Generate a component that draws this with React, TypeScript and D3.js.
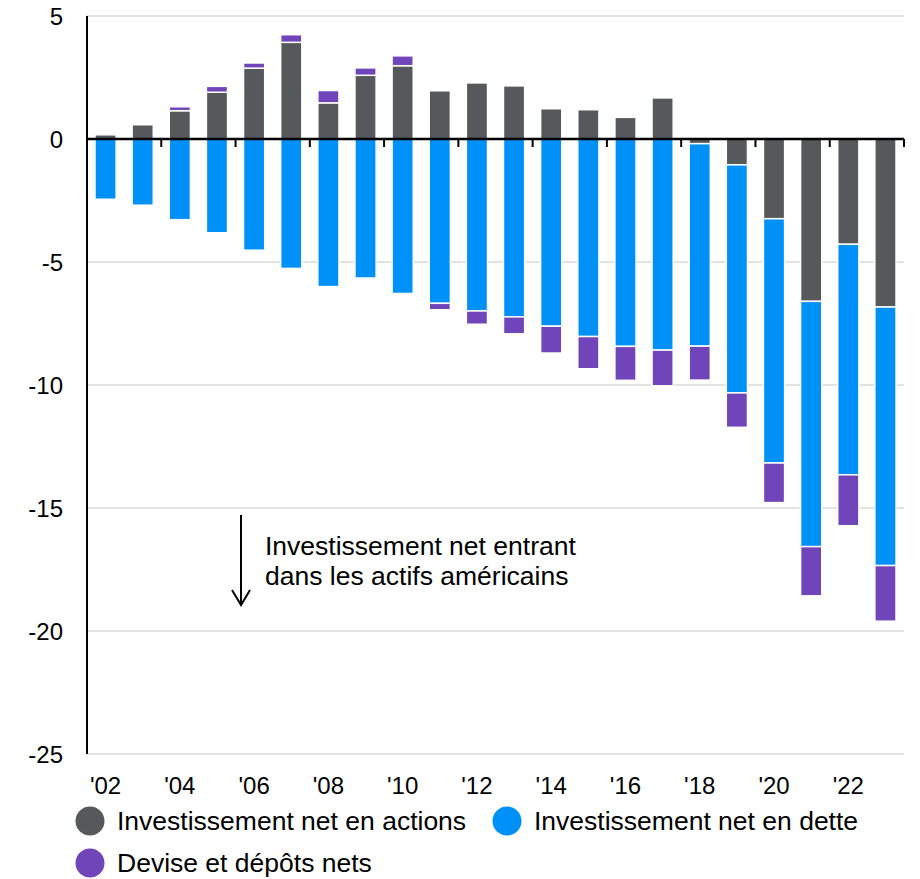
import React from "react";
import * as d3 from "d3";

// years on the x axis
const years = [
  2002, 2003, 2004, 2005, 2006, 2007, 2008, 2009, 2010, 2011, 2012,
  2013, 2014, 2015, 2016, 2017, 2018, 2019, 2020, 2021, 2022, 2023,
];

// net equity investment
const equity = [
  0.17, 0.58, 1.15, 1.9, 2.88, 3.93, 1.47, 2.59, 2.98, 1.96, 2.28,
  2.16, 1.23, 1.19, 0.88, 1.67, -0.19, -1.05, -3.24, -6.6, -4.28, -6.83,
];

// net debt investment
const debt = [
  -2.45, -2.69, -3.28, -3.81, -4.52, -5.26, -6.0, -5.65, -6.28, -6.68, -6.99,
  -7.23, -7.61, -8.03, -8.43, -8.58, -8.23, -9.27, -9.93, -9.97, -9.37, -10.51,
];

// net currency and deposits
const currency = [
  0, 0, 0.16, 0.24, 0.21, 0.31, 0.5, 0.3, 0.4, -0.26, -0.54,
  -0.69, -1.09, -1.31, -1.38, -1.45, -1.38, -1.4, -1.61, -2.0, -2.07, -2.26,
];

const yTicks = [5, 0, -5, -10, -15, -20, -25];
const xLabelYears = [2002, 2004, 2006, 2008, 2010, 2012, 2014, 2016, 2018, 2020, 2022];

const seriesKeys = ["equity", "debt", "currency"];
const seriesNames = [
  "Investissement net en actions",
  "Investissement net en dette",
  "Devise et dépôts nets",
];
const colors = ["#55595c", "#0091f8", "#6f45b9"];

const width = 920;
const height = 879;
const font = "'Liberation Sans', Arial, sans-serif";

export default function App() {
  const rows = years.map((y, i) => ({
    year: y,
    equity: equity[i],
    debt: debt[i],
    currency: currency[i],
  }));

  const x = d3
    .scaleBand<number>()
    .domain(years)
    .range([87, 904])
    .paddingInner(0.43)
    .paddingOuter(0.215);

  const y = d3.scaleLinear().domain([-25, 5]).range([754, 16]);

  const stack = d3
    .stack<any>()
    .keys(seriesKeys)
    .offset(d3.stackOffsetDiverging);
  const layers = stack(rows);

  const step = x.step();
  const bw = x.bandwidth();
  const tickYears = years.filter((yr) => yr % 2 === 1);

  return (
    <svg
      width={width}
      height={height}
      style={{ position: "absolute", left: 0, top: 0 }}
      fontFamily={font}
    >
      {/* grid */}
      {yTicks
        .filter((t) => t !== 0)
        .map((t) => (
          <line
            key={"g" + t}
            x1={87}
            x2={904}
            y1={y(t)}
            y2={y(t)}
            stroke="#d9d9d9"
            strokeWidth={1.5}
          />
        ))}

      {/* bars */}
      {layers.map((layer, li) => (
        <g key={layer.key} fill={colors[li]}>
          {layer.map((d, i) => {
            const top = y(Math.max(d[0], d[1]));
            const bot = y(Math.min(d[0], d[1]));
            if (bot - top <= 0) return null;
            return (
              <rect
                key={i}
                x={x(years[i])}
                y={top}
                width={bw}
                height={bot - top}
                stroke="#ffffff"
                strokeWidth={1.5}
              />
            );
          })}
        </g>
      ))}

      {/* zero line and ticks */}
      <line x1={87} x2={904} y1={y(0)} y2={y(0)} stroke="#000" strokeWidth={2.5} />
      {tickYears.map((yr) => {
        const tx = (x(yr) as number) + bw + (step - bw) / 2;
        return (
          <line
            key={"t" + yr}
            x1={tx}
            x2={tx}
            y1={y(0)}
            y2={y(0) + 8}
            stroke="#000"
            strokeWidth={2}
          />
        );
      })}

      {/* y axis */}
      <line x1={87} x2={87} y1={y(5)} y2={y(-25)} stroke="#000" strokeWidth={2} />
      {yTicks.map((t) => (
        <text
          key={"yl" + t}
          x={63}
          y={y(t)}
          dy="0.36em"
          textAnchor="end"
          fontSize={24}
          fill="#000"
        >
          {t}
        </text>
      ))}

      {/* x labels */}
      {xLabelYears.map((yr) => (
        <text
          key={"xl" + yr}
          x={(x(yr) as number) + bw / 2}
          y={794}
          textAnchor="middle"
          fontSize={24}
          fill="#000"
        >
          {"'" + String(yr).slice(2)}
        </text>
      ))}

      {/* annotation */}
      <line x1={241} x2={241} y1={515} y2={604} stroke="#000" strokeWidth={2} />
      <path d="M232,590 L241,605 L250,590" fill="none" stroke="#000" strokeWidth={2} />
      <text x={265} y={555} fontSize={26.5} fill="#000">
        Investissement net entrant
      </text>
      <text x={265} y={585} fontSize={26.5} fill="#000">
        dans les actifs américains
      </text>

      {/* legend */}
      {[
        { i: 0, cx: 90, cy: 821 },
        { i: 1, cx: 507, cy: 821 },
        { i: 2, cx: 90, cy: 863 },
      ].map((l) => (
        <g key={"lg" + l.i}>
          <circle cx={l.cx} cy={l.cy} r={14.5} fill={colors[l.i]} />
          <text x={l.cx + 27} y={l.cy + 9} fontSize={26.5} fill="#000">
            {seriesNames[l.i]}
          </text>
        </g>
      ))}
    </svg>
  );
}
